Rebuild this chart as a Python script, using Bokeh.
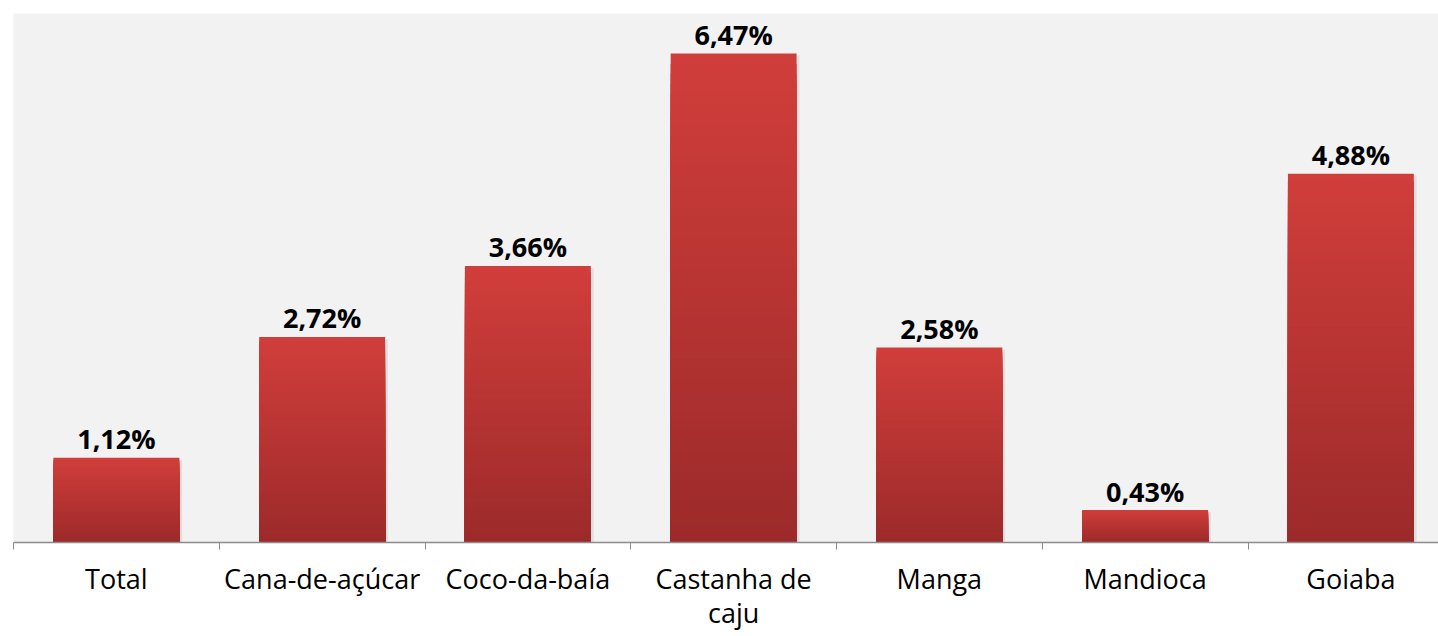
from bokeh.plotting import figure
from bokeh.models import Range1d, FixedTicker, ColumnDataSource
from bokeh.core.properties import value
from bokeh.embed import file_html
from bokeh.resources import INLINE

categories = ["Total", "Cana-de-açúcar", "Coco-da-baía", "Castanha de\ncaju", "Manga", "Mandioca", "Goiaba"]
values = [1.12, 2.72, 3.66, 6.47, 2.58, 0.43, 4.88]
value_labels = ["1,12%", "2,72%", "3,66%", "6,47%", "2,58%", "0,43%", "4,88%"]

centers = [i + 0.5 for i in range(len(categories))]
boundaries = [float(i) for i in range(len(categories))]
bar_w = 0.612

p = figure(frame_width=1425, frame_height=529, output_backend="svg", toolbar_location=None,
           x_range=Range1d(0, 1425 / 205.75), y_range=Range1d(0, 7.0),
           min_border_left=13, min_border_right=0, min_border_top=13, min_border_bottom=60)
p.background_fill_color = "#F2F2F2"
p.border_fill_color = "white"
p.outline_line_color = None
p.grid.visible = False
p.yaxis.visible = False

# soft shadow
sh = ColumnDataSource(dict(
    left=[c + bar_w / 2 for c in centers],
    right=[c + bar_w / 2 + 0.014 for c in centers],
    top=[v - 0.03 for v in values],
    bottom=[0 for v in values]))
p.quad(left="left", right="right", top="top", bottom="bottom", source=sh,
       fill_color="#000000", fill_alpha=0.08, line_color=None)

# gradient bars: overlapping quads from the base, tallest first
N = 48
top_rgb = (0xD1, 0x3E, 0x3B)
bot_rgb = (0x9C, 0x2A, 0x2A)
L, R, T, B, C = [], [], [], [], []
for k in range(N, 0, -1):
    f = (k - 0.5) / N
    rgb = tuple(int(round(bot_rgb[j] + (top_rgb[j] - bot_rgb[j]) * f)) for j in range(3))
    for c, v in zip(centers, values):
        L.append(c - bar_w / 2)
        R.append(c + bar_w / 2)
        B.append(0)
        T.append(v * k / N)
        C.append("#%02x%02x%02x" % rgb)
src = ColumnDataSource(dict(left=L, right=R, top=T, bottom=B, color=C))
p.quad(left="left", right="right", top="top", bottom="bottom", source=src,
       fill_color="color", line_color=None)

lab = ColumnDataSource(dict(x=centers, y=values, t=value_labels))
p.text(x="x", y="y", text="t", source=lab, text_align="center", text_baseline="alphabetic",
       y_offset=-19, text_font=value("Open Sans"), text_font_style="bold",
       text_font_size="27px", text_color="black")

ax = p.xaxis[0]
ax.ticker = FixedTicker(ticks=centers, minor_ticks=boundaries)
ax.major_label_overrides = {c: name for c, name in zip(centers, categories)}
ax.major_tick_line_color = None
ax.minor_tick_line_color = "#8C8C8C"
ax.minor_tick_out = 7
ax.minor_tick_in = 0
ax.axis_line_color = "#8C8C8C"
ax.axis_line_width = 1.3
ax.major_label_text_font = "Open Sans"
ax.major_label_text_font_size = "27px"
ax.major_label_text_color = "black"
ax.major_label_text_line_height = 0.92
ax.major_label_standoff = 10

open("out.html", "w").write(file_html(p, INLINE))
